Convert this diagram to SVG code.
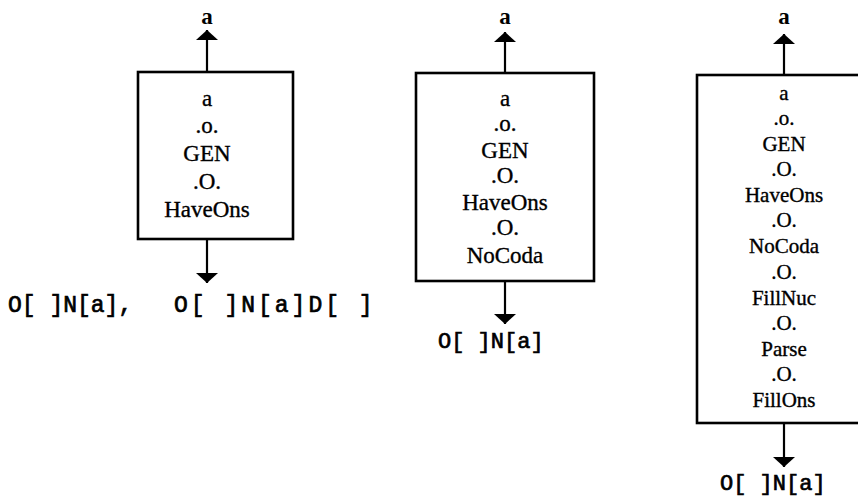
<svg xmlns="http://www.w3.org/2000/svg" width="858" height="500" viewBox="0 0 858 500">
<defs>
<style>
.box{fill:none;stroke:#000;stroke-width:2.6}
.ln{stroke:#000;stroke-width:2.2;fill:none}
.t{font-family:"Liberation Serif","Times New Roman",serif;fill:#000;stroke:#000;stroke-width:0.35;text-anchor:middle}
.t1{font-size:23px}
.t3{font-size:21px}
.top{font-family:"Liberation Serif","Times New Roman",serif;font-size:23px;font-weight:bold;fill:#000;text-anchor:middle}
.m{font-family:"Liberation Mono","Courier New",monospace;font-size:22px;fill:#000;stroke:#000;stroke-width:0.7}
.m23{font-size:23px}
</style>
<marker id="ah" viewBox="0 0 10 22" refX="10" refY="11" markerWidth="11" markerHeight="22" markerUnits="userSpaceOnUse" orient="auto">
<path d="M0,0 L10,11 L0,22 Z" fill="#000"/>
</marker>
</defs>
<rect width="858" height="500" fill="#fff"/>
<g id="connectors">
<line class="ln" x1="207" y1="72" x2="207" y2="30" marker-end="url(#ah)"/>
<line class="ln" x1="207" y1="239" x2="207" y2="283" marker-end="url(#ah)"/>
<line class="ln" x1="505" y1="73" x2="505" y2="32" marker-end="url(#ah)"/>
<line class="ln" x1="505" y1="281" x2="505" y2="324" marker-end="url(#ah)"/>
<line class="ln" x1="784" y1="75" x2="784" y2="34" marker-end="url(#ah)"/>
<line class="ln" x1="784" y1="423" x2="784" y2="467" marker-end="url(#ah)"/>
</g>
<g id="node1">
<text class="top" x="207" y="24">a</text>
<rect class="box" x="138" y="72" width="155" height="167"/>
<text class="t t1" x="207" y="106">a</text>
<text class="t t1" x="207" y="133">.o.</text>
<text class="t t1" x="207" y="161">GEN</text>
<text class="t t1" x="207" y="189">.O.</text>
<text class="t t1" x="207" y="217">HaveOns</text>
</g>
<g id="label1">
<text class="m m23" x="8" y="312" xml:space="preserve">O[ ]N[a],</text>
<text class="m m23" x="174" y="312" letter-spacing="3" xml:space="preserve">O[ ]N[a]D[ ]</text>
</g>
<g id="node2">
<text class="top" x="505" y="24">a</text>
<rect class="box" x="416" y="73" width="178" height="208"/>
<text class="t t1" x="505" y="106">a</text>
<text class="t t1" x="505" y="131">.o.</text>
<text class="t t1" x="505" y="158">GEN</text>
<text class="t t1" x="505" y="183">.O.</text>
<text class="t t1" x="505" y="210">HaveOns</text>
<text class="t t1" x="505" y="235">.O.</text>
<text class="t t1" x="505" y="263">NoCoda</text>
</g>
<g id="label2"><text class="m" x="438" y="348" xml:space="preserve">O[ ]N[a]</text></g>
<g id="node3">
<text class="top" x="784" y="24">a</text>
<rect class="box" x="697" y="75" width="180" height="348"/>
<text class="t t3" x="784" y="100">a</text>
<text class="t t3" x="784" y="125">.o.</text>
<text class="t t3" x="784" y="151">GEN</text>
<text class="t t3" x="784" y="176">.O.</text>
<text class="t t3" x="784" y="202">HaveOns</text>
<text class="t t3" x="784" y="227">.O.</text>
<text class="t t3" x="784" y="253">NoCoda</text>
<text class="t t3" x="784" y="279">.O.</text>
<text class="t t3" x="784" y="305">FillNuc</text>
<text class="t t3" x="784" y="330">.O.</text>
<text class="t t3" x="784" y="356">Parse</text>
<text class="t t3" x="784" y="381">.O.</text>
<text class="t t3" x="784" y="407">FillOns</text>
</g>
<g id="label3"><text class="m" x="720" y="490" xml:space="preserve">O[ ]N[a]</text></g>
</svg>
